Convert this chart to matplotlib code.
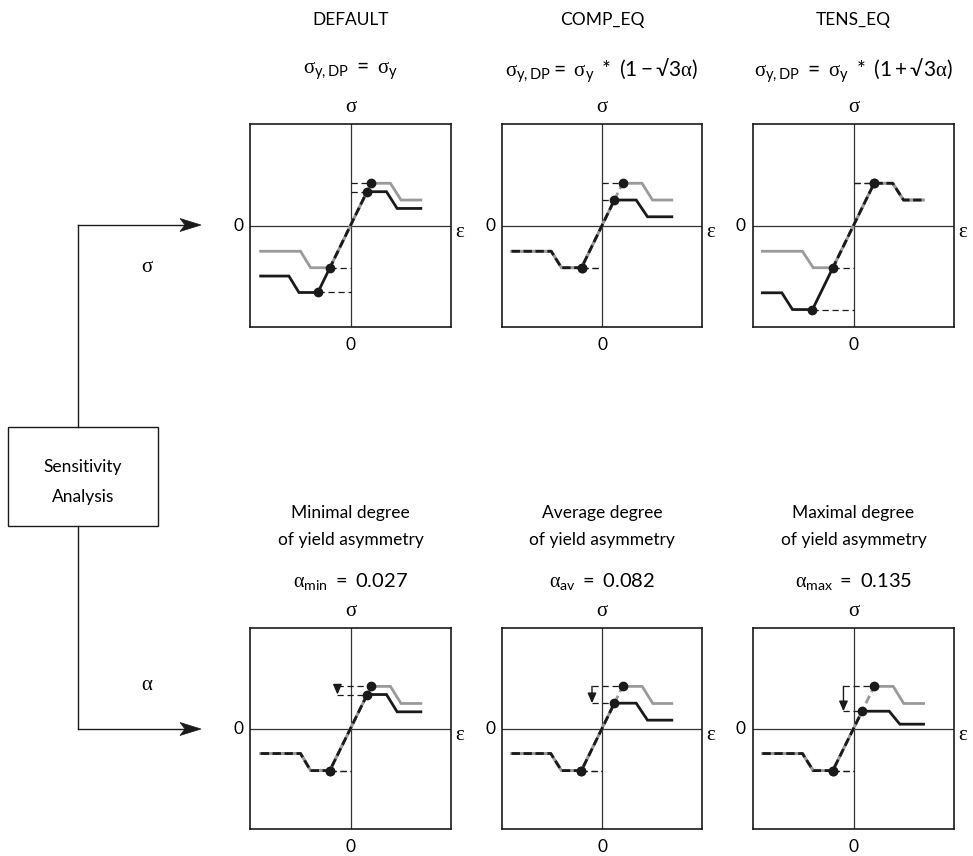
import numpy as np
import matplotlib
matplotlib.use("Agg")
import matplotlib.pyplot as plt
from matplotlib.patches import Polygon, Rectangle

plt.rcParams["font.family"] = ["Lato", "DejaVu Sans"]
plt.rcParams["mathtext.fontset"] = "custom"
plt.rcParams["mathtext.rm"] = "Lato"
plt.rcParams["mathtext.it"] = "Liberation Serif"
plt.rcParams["mathtext.sf"] = "Lato"
plt.rcParams["mathtext.bf"] = "Lato:bold"
plt.rcParams["mathtext.fallback"] = "stixsans"

# ---------------------------------------------------------------- data
top_titles = ["DEFAULT", "COMP_EQ", "TENS_EQ"]
top_formulas = [
    r"$\sigma_{\mathrm{y,DP}}\ \mathrm{=}\ \sigma_{\mathrm{y}}$",
    r"$\sigma_{\mathrm{y,DP}}\mathrm{=}\ \sigma_{\mathrm{y}}\mathrm{\ *\ (1}-√\mathrm{3}\alpha\mathrm{)}$",
    r"$\sigma_{\mathrm{y,DP}}\ \mathrm{=}\ \sigma_{\mathrm{y}}\mathrm{\ *\ (1+}√\mathrm{3}\alpha\mathrm{)}$",
]
bottom_titles = [
    ("Minimal degree", "of yield asymmetry"),
    ("Average degree", "of yield asymmetry"),
    ("Maximal degree", "of yield asymmetry"),
]
alpha_names = ["min", "av", "max"]
alpha_values = [0.027, 0.082, 0.135]

# stress-strain polylines (eps, sigma); vertices 3 and 4 are the yield points
ref_default = [(-0.894, -0.254), (-0.497, -0.254), (-0.397, -0.416), (-0.205, -0.416),
               (0.205, 0.416), (0.397, 0.416), (0.503, 0.251), (0.700, 0.251)]
mod_default = [(-0.894, -0.498), (-0.613, -0.498), (-0.513, -0.660), (-0.325, -0.660),
               (0.164, 0.333), (0.358, 0.333), (0.464, 0.168), (0.700, 0.168)]

ref_comp = [(-0.904, -0.254), (-0.508, -0.254), (-0.405, -0.416), (-0.205, -0.416),
            (0.205, 0.416), (0.400, 0.416), (0.505, 0.251), (0.698, 0.251)]
mod_comp = [(-0.904, -0.254), (-0.508, -0.254), (-0.405, -0.416), (-0.205, -0.416),
            (0.124, 0.251), (0.342, 0.251), (0.455, 0.086), (0.698, 0.086)]

ref_tens = [(-0.906, -0.254), (-0.508, -0.254), (-0.401, -0.416), (-0.205, -0.416),
            (0.205, 0.416), (0.390, 0.416), (0.498, 0.251), (0.697, 0.251)]
mod_tens = [(-0.906, -0.663), (-0.713, -0.663), (-0.607, -0.828), (-0.408, -0.828),
            (0.205, 0.416), (0.390, 0.416), (0.498, 0.251), (0.697, 0.251)]

ref_amin = [(-0.894, -0.249), (-0.497, -0.249), (-0.397, -0.419), (-0.206, -0.419),
            (0.206, 0.419), (0.397, 0.419), (0.503, 0.249), (0.700, 0.249)]
mod_amin = [(-0.894, -0.249), (-0.497, -0.249), (-0.397, -0.419), (-0.206, -0.419),
            (0.166, 0.338), (0.358, 0.338), (0.464, 0.166), (0.700, 0.166)]

ref_aav = [(-0.904, -0.249), (-0.512, -0.249), (-0.405, -0.419), (-0.206, -0.419),
           (0.206, 0.419), (0.402, 0.419), (0.508, 0.249), (0.698, 0.249)]
mod_aav = [(-0.904, -0.249), (-0.512, -0.249), (-0.405, -0.419), (-0.206, -0.419),
           (0.124, 0.252), (0.342, 0.252), (0.455, 0.083), (0.698, 0.083)]

ref_amax = [(-0.906, -0.249), (-0.508, -0.249), (-0.401, -0.419), (-0.206, -0.419),
            (0.206, 0.419), (0.395, 0.419), (0.500, 0.249), (0.697, 0.249)]
mod_amax = [(-0.906, -0.249), (-0.508, -0.249), (-0.401, -0.419), (-0.206, -0.419),
            (0.085, 0.172), (0.355, 0.172), (0.461, 0.043), (0.697, 0.043)]

ref_curves = [ref_default, ref_comp, ref_tens, ref_amin, ref_aav, ref_amax]
mod_curves = [mod_default, mod_comp, mod_tens, mod_amin, mod_aav, mod_amax]
arrow_eps = [None, None, None, -0.13, -0.10, -0.10]

# ---------------------------------------------------------------- layout
W, H = 973, 856
col_x = [(250, 451), (502, 702), (753, 954)]
row_y = [(124, 327), (628, 829)]
GRAY = "#9a9a9a"
BLACK = "#1a1a1a"
AXC = "#333333"
FS = 12.5
FS_GREEK = 15
FS_FORMULA = 15
FS_ALPHA = 14.5

fig = plt.figure(figsize=(W / 100, H / 100), dpi=100)
bg = fig.add_axes([0, 0, 1, 1])
bg.set_xlim(0, W)
bg.set_ylim(H, 0)
bg.axis("off")


def resample(verts, step=0.003):
    v = np.asarray(verts, float)
    out = []
    for a, b in zip(v[:-1], v[1:]):
        n = max(2, int(np.hypot(*(b - a)) / step))
        t = np.linspace(0, 1, n, endpoint=False)
        out.append(a + (b - a) * t[:, None])
    out.append(v[-1:])
    return np.vstack(out)


def dist_to_poly(P, verts):
    v = np.asarray(verts, float)
    best = np.full(len(P), np.inf)
    for a, b in zip(v[:-1], v[1:]):
        ab = b - a
        t = np.clip(((P - a) @ ab) / (ab @ ab), 0, 1)
        proj = a + t[:, None] * ab
        best = np.minimum(best, np.hypot(*(P - proj).T))
    return best


def runs(mask):
    idx = np.flatnonzero(np.diff(np.r_[0, mask.astype(int), 0]))
    return list(zip(idx[::2], idx[1::2]))


def draw_panel(ax, ref, mod, arrow_x):
    ax.set_xlim(-1, 1)
    ax.set_ylim(-1, 1)
    ax.set_xticks([])
    ax.set_yticks([])
    for s in ax.spines.values():
        s.set_linewidth(1.2)
        s.set_color(BLACK)
    ax.axhline(0, color=AXC, lw=0.9, zorder=1)
    ax.axvline(0, color=AXC, lw=0.9, zorder=1)

    ref = np.asarray(ref, float)
    mod = np.asarray(mod, float)

    # guide lines from the yield points to the stress axis
    for curve in (ref, mod):
        (xc, yc), (xt, yt) = curve[3], curve[4]
        ax.plot([xc, 0], [yc, yc], color=BLACK, lw=0.9, ls=(0, (5, 3)), zorder=2)
        x0 = 0 if arrow_x is None else arrow_x
        ax.plot([x0, xt], [yt, yt], color=BLACK, lw=0.9, ls=(0, (5, 3)), zorder=2)
    if arrow_x is not None:
        ax.annotate("", xy=(arrow_x, mod[4][1]), xytext=(arrow_x, ref[4][1]),
                    arrowprops=dict(arrowstyle="-|>,head_length=0.5,head_width=0.22",
                                    color=BLACK, lw=1.0,
                                    mutation_scale=12, shrinkA=0, shrinkB=0),
                    zorder=3)

    # reference curve: solid branches, dashed elastic part
    lw = 2.0
    ax.plot(ref[:4, 0], ref[:4, 1], color=GRAY, lw=lw, zorder=3, solid_joinstyle="miter")
    ax.plot(ref[4:, 0], ref[4:, 1], color=GRAY, lw=lw, zorder=3, solid_joinstyle="miter")
    ax.plot(ref[3:5, 0], ref[3:5, 1], color=GRAY, lw=lw, ls=(0, (3, 1.5)), zorder=3)

    # modified curve: dashed where it coincides with the reference curve
    P = resample(mod)
    shared = dist_to_poly(P, ref) < 0.012
    for i0, i1 in runs(shared):
        seg = P[i0:i1 + 1] if i1 < len(P) else P[i0:i1]
        ax.plot(seg[:, 0], seg[:, 1], color=GRAY, lw=lw, zorder=4, solid_capstyle="butt")
        ax.plot(seg[:, 0], seg[:, 1], color=BLACK, lw=lw, ls=(0, (3, 1.3)),
                zorder=5, dash_capstyle="butt")
    for i0, i1 in runs(~shared):
        a = max(i0 - 1, 0)
        seg = P[a:i1 + 1] if i1 < len(P) else P[a:i1]
        ax.plot(seg[:, 0], seg[:, 1], color=BLACK, lw=lw, zorder=5,
                solid_joinstyle="miter")

    pts = np.vstack([ref[3:5], mod[3:5]])
    ax.plot(pts[:, 0], pts[:, 1], "o", color=BLACK, ms=6, zorder=6)


for r, (y0, y1) in enumerate(row_y):
    for c, (x0, x1) in enumerate(col_x):
        k = 3 * r + c
        ax = fig.add_axes([x0 / W, 1 - y1 / H, (x1 - x0) / W, (y1 - y0) / H])
        ax.set_zorder(2)
        draw_panel(ax, ref_curves[k], mod_curves[k], arrow_eps[k])
        cx = (x0 + x1) / 2
        cy = (y0 + y1) / 2
        bg.text(cx, y0 - 17, "σ", family="Liberation Serif", fontsize=FS_GREEK,
                ha="center", va="center")
        bg.text(x0 - 12, cy, "0", fontsize=FS, ha="center", va="center")
        bg.text(x1 + 9, cy + 7, "ε", family="Liberation Serif", fontsize=FS_GREEK,
                ha="center", va="center")
        bg.text(cx, y1 + 18, "0", fontsize=FS, ha="center", va="center")

for c, (x0, x1) in enumerate(col_x):
    cx = (x0 + x1) / 2
    bg.text(cx, 20, top_titles[c], fontsize=FS, ha="center", va="center")
    bg.text(cx, 71, top_formulas[c], fontsize=FS_FORMULA, ha="center", va="center")
    l1, l2 = bottom_titles[c]
    bg.text(cx, 513, l1, fontsize=FS, ha="center", va="center")
    bg.text(cx, 540, l2, fontsize=FS, ha="center", va="center")
    bg.text(cx, 582,
            rf"$\alpha_{{\mathrm{{{alpha_names[c]}}}}}\ \mathrm{{=\ {alpha_values[c]:.3f}}}$",
            fontsize=FS_ALPHA, ha="center", va="center")

# block diagram on the left
bg.add_patch(Rectangle((8, 427), 150, 99, fill=False, ec=BLACK, lw=1.0))
bg.text(83, 467, "Sensitivity", fontsize=FS, ha="center", va="center")
bg.text(83, 497, "Analysis", fontsize=FS, ha="center", va="center")
bg.plot([78, 78], [225, 427], color=BLACK, lw=1.0)
bg.plot([78, 78], [526, 729], color=BLACK, lw=1.0)
for yy in (225, 729):
    bg.plot([78, 186], [yy, yy], color=BLACK, lw=1.0)
    bg.add_patch(Polygon([(201, yy), (180, yy - 6.5), (185, yy), (180, yy + 6.5)],
                         closed=True, fc=BLACK, ec=BLACK, lw=0.5))
bg.text(147, 268, "σ", family="Liberation Serif", fontsize=FS_GREEK, ha="center", va="center")
bg.text(147, 686, "α", family="Liberation Serif", fontsize=FS_GREEK, ha="center", va="center")

fig.savefig("out.png", dpi=100)
